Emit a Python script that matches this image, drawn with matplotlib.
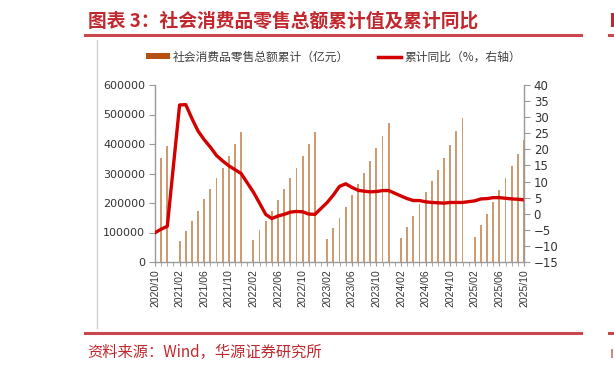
import numpy as np
import matplotlib
matplotlib.use('Agg')
import matplotlib.pyplot as plt
from matplotlib.patches import Patch, Rectangle
from matplotlib.lines import Line2D

plt.rcParams['font.family'] = ['Noto Sans CJK SC', 'DejaVu Sans']

# monthly categories 2020/10 .. 2025/10
months = ['2020/10', '2020/11', '2020/12'] + \
    ['%d/%02d' % (y, m) for y in range(2021, 2026) for m in range(1, 13)]
months = months[:61]

# 社零累计值（亿元），1月无数据
retail = [316000, 352287, 391981,
          None, 69737, 105221, 138373, 174319, 211904, 246829, 283263, 318057, 358848, 399900, 440823,
          None, 74426, 108659, 138142, 171689, 210432, 246302, 283088, 320305, 360575, 399190, 439733,
          None, 77067, 114922, 149483, 187636, 227588, 263922, 301933, 342107, 385880, 427945, 471495,
          None, 81307, 120327, 155626, 195237, 235969, 273727, 311693, 352564, 397747, 442723, 487895,
          None, 83731, 124671, 161845, 203171, 245458, 284238, 323906, 365877, 412169]

# 累计同比（%）
yoy = [-5.9, -4.8, -3.9,
       None, 33.8, 33.9, 29.6, 25.7, 23.0, 20.7, 18.1, 16.4, 14.9, 13.7, 12.5,
       None, 6.7, 3.3, -0.2, -1.5, -0.7, -0.2, 0.5, 0.7, 0.6, -0.1, -0.2,
       None, 3.5, 5.8, 8.5, 9.3, 8.2, 7.3, 7.0, 6.8, 6.9, 7.2, 7.2,
       None, 5.5, 4.7, 4.1, 4.1, 3.7, 3.5, 3.4, 3.3, 3.5, 3.5, 3.5,
       None, 4.0, 4.6, 4.7, 5.0, 5.0, 4.8, 4.6, 4.5, 4.3]

red = '#c0282e'
gray = '#9a9a9a'
txt = '#333333'

W, H = 614, 372
fig = plt.figure(figsize=(W / 100, H / 100), dpi=100)

# header / footer decorations
fig.text(88 / W, 1 - 21 / H, '图表 3：社会消费品零售总额累计值及累计同比', color=red,
         fontsize=13.5, fontweight='bold', va='center', ha='left')
fig.text(87 / W, 1 - 352 / H, '资料来源：Wind，华源证券研究所', color=red,
         fontsize=11, va='center', ha='left')
# bits of the neighbouring column at the right edge
fig.add_artist(Rectangle((611 / W, 1 - 27 / H), 3 / W, 14 / H, color=red, lw=0))
fig.add_artist(Rectangle((611 / W, 1 - 358 / H), 2 / W, 9 / H, color='#d9868a', lw=0))
for yy in (35, 333):
    fig.add_artist(Line2D([85 / W, 581 / W], [1 - yy / H] * 2, color='#c9474d', lw=2.2))
    fig.add_artist(Line2D([609 / W, 1.0], [1 - yy / H] * 2, color='#c9474d', lw=2.2))
fig.add_artist(Line2D([97 / W] * 2, [1 - 40 / H, 1 - 328 / H], color='#cfcfcf', lw=1))

ax = fig.add_axes([155 / W, 1 - 262 / H, (524 - 155) / W, (262 - 85) / H])
ax2 = ax.twinx()

x = np.arange(len(months))
bar_y = np.array([np.nan if v is None else v for v in retail], dtype=float)
line_y = np.array([np.nan if v is None else v for v in yoy], dtype=float)

ax.bar(x, bar_y, width=0.3, color='#cf9a70', linewidth=0, zorder=1)
ok = ~np.isnan(line_y)
ax2.plot(x[ok], line_y[ok], color='#d40000', lw=2.4, solid_joinstyle='round')

ax.set_xlim(0, len(months) - 1)
ax.set_ylim(0, 600000)
ax2.set_ylim(-15, 40)
ax.set_yticks(np.arange(0, 600001, 100000))
ax2.set_yticks(np.arange(-15, 41, 5))

ax.set_xticks(x[::4])
ax.set_xticklabels(months[::4], rotation=90, fontsize=7.5, family='Liberation Sans', color=txt)
ax.set_xticks(x, minor=True)
ax.tick_params(axis='x', which='both', direction='out', length=3, color=gray, pad=2)
ax.tick_params(axis='y', direction='out', length=4, color=gray, pad=3, labelsize=8, labelcolor=txt)
ax2.tick_params(axis='y', direction='out', length=4, color=gray, pad=3, labelsize=8.5, labelcolor=txt)
for lab in ax.get_yticklabels() + ax2.get_yticklabels():
    lab.set_family('DejaVu Sans')

for a in (ax, ax2):
    a.spines['top'].set_visible(False)
    for s in a.spines.values():
        s.set_color(gray)
        s.set_linewidth(1)
ax.spines['right'].set_visible(False)
ax2.spines['left'].set_visible(False)
ax2.spines['bottom'].set_visible(False)

handles = [Patch(facecolor='#b5520f', edgecolor='none'),
           Line2D([0], [0], color='#d40000', lw=2.5)]
fig.legend(handles, ['社会消费品零售总额累计（亿元）', '累计同比（%，右轴）'],
           loc='center left', bbox_to_anchor=(146 / W, 1 - 57 / H), ncol=2,
           frameon=False, fontsize=8.5, handlelength=2.0, handleheight=0.45,
           handletextpad=0.3, columnspacing=2.4, borderpad=0, borderaxespad=0,
           labelcolor='#404040')

fig.savefig('out.png', dpi=100)
